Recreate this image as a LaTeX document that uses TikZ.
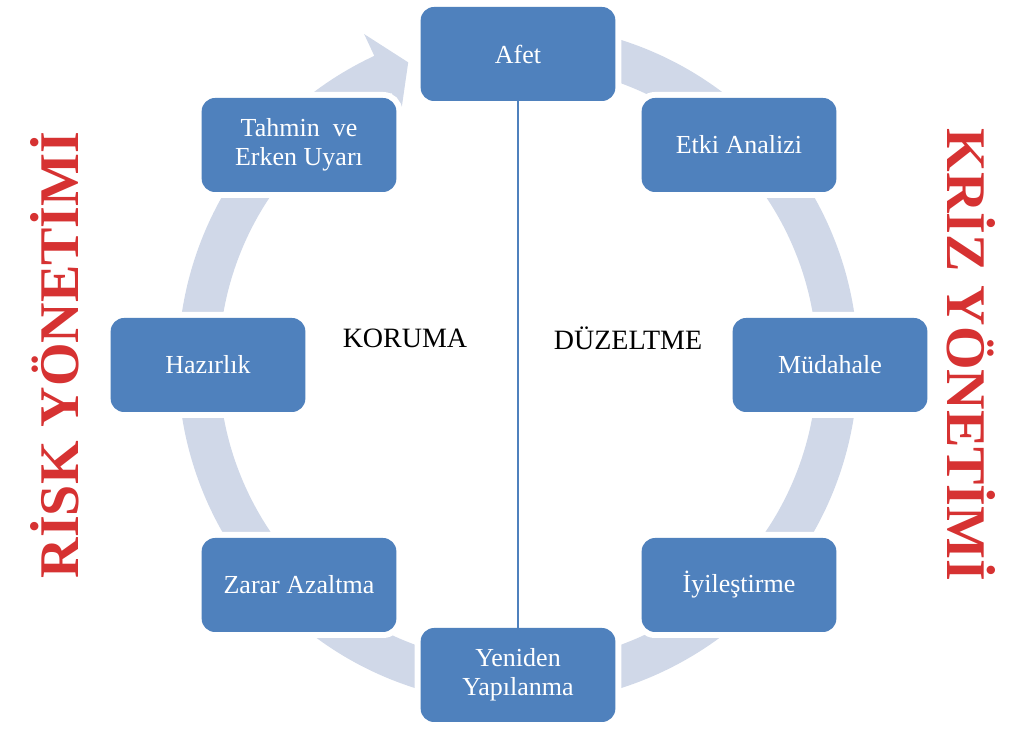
\documentclass[tikz,border=0pt]{standalone}
\usepackage{fontspec}
\setmainfont{Liberation Serif}[BoldFont={Liberation Serif Bold}]
\definecolor{mavi}{HTML}{4F81BD}
\definecolor{halkarenk}{HTML}{D0D8E8}
\definecolor{kirmizi}{HTML}{D63232}
\tikzset{
  kutu/.style={rectangle, rounded corners=10pt, fill=mavi, text=white,
    minimum width=146pt, minimum height=70.5pt, align=center,
    font=\fontsize{19.5}{22}\selectfont,
    preaction={draw=white, line width=9pt}},
  orta/.style={font=\fontsize{21}{24}\selectfont},
  baslik/.style={text=kirmizi, inner sep=0pt,
    font=\bfseries\fontsize{42}{42}\selectfont}
}
\begin{document}
\begin{tikzpicture}[x=0.75pt, y=0.75pt]
\useasboundingbox (0,0) rectangle (1015,729);
\coordinate (m) at (518,365) ;
\fill[halkarenk, shift={(m)}] (80:340) arc[start angle=80, end angle=-245, radius=340]
  -- (115:364) -- (110:321) -- (115:277) -- (115:299)
  arc[start angle=-245, end angle=80, radius=299] -- cycle;
\node[kutu] (afet)        at (518,675) {Afet};
\node[kutu] (etki)        at (739,584) {Etki Analizi};
\node[kutu] (mudahale)    at (830,364) {Müdahale};
\node[kutu] (iyilestirme) at (739,144) {İyileştirme};
\node[kutu] (yeniden)     at (518,54)  {Yeniden\\Yapılanma};
\node[kutu] (zarar)       at (299,144) {Zarar Azaltma};
\node[kutu] (hazirlik)    at (208,364) {Hazırlık};
\node[kutu] (tahmin)      at (299,584) {Tahmin~~ve\\Erken Uyarı};
\draw[mavi, line width=0.9pt] (afet) -- (yeniden);
\node[orta] (koruma)   at (405,391) {KORUMA};
\node[orta] (duzeltme) at (628,391) {DÜZELTME};
\node[baslik, rotate=90, anchor=base]  (risk) at (78,374)  {RİSK YÖNETİMİ};
\node[baslik, rotate=-90, anchor=base] (kriz) at (947,374) {KRİZ YÖNETİMİ};
\end{tikzpicture}
\end{document}
